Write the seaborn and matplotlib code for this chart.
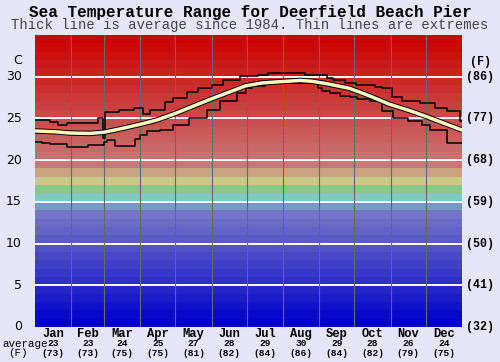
import matplotlib
matplotlib.use("Agg")
import matplotlib.pyplot as plt
import seaborn as sns
import numpy as np
from matplotlib.transforms import blended_transform_factory

# ---------------- data ----------------
months = ["Jan", "Feb", "Mar", "Apr", "May", "Jun",
          "Jul", "Aug", "Sep", "Oct", "Nov", "Dec"]
month_avg_c = [23, 23, 24, 25, 27, 28, 29, 30, 29, 28, 26, 24]
month_avg_f = [73, 73, 75, 75, 81, 82, 84, 86, 84, 82, 79, 75]
month_starts = [0, 31, 59, 90, 120, 151, 181, 212, 243, 273, 304, 334, 365]

c_ticks = [0, 5, 10, 15, 20, 25, 30]
f_labels = ["(32)", "(41)", "(50)", "(59)", "(68)", "(77)", "(86)"]

# average (thick line): day of year, deg C
avg_day = [0, 17, 30, 47, 59, 73, 90, 104, 120, 134, 150, 165, 180, 194,
           214, 227, 237, 250, 269, 286, 303, 321, 335, 350, 365]
avg_temp = [23.5, 23.4, 23.25, 23.2, 23.35, 23.75, 24.3, 24.8, 25.6, 26.4,
            27.3, 28.1, 28.9, 29.25, 29.45, 29.55, 29.45, 29.15, 28.6, 27.7,
            26.7, 25.9, 25.2, 24.4, 23.6]

# extremes (thin step lines)
max_day = [0, 13, 20, 27, 54, 58.5, 59.5, 72, 85, 92, 98, 111, 118, 130, 139,
           151, 161, 175, 191, 199, 231, 250, 255, 265, 274, 291, 297, 305,
           314, 329, 342, 352, 363, 365]
max_temp = [24.8, 24.6, 24.2, 24.5, 25.0, 22.6, 25.8, 26.0, 26.3, 25.5, 26.0,
            27.0, 27.5, 28.2, 28.7, 29.0, 29.6, 30.05, 30.2, 30.4, 30.25,
            29.85, 29.6, 29.3, 29.05, 28.8, 28.6, 27.6, 27.1, 26.85, 26.25,
            25.9, 24.65, 24.65]

min_day = [0, 6, 13, 27, 45, 59, 61.5, 68, 85.5, 90, 96, 107, 118, 132, 147,
           158, 173, 180, 185.5, 197, 211, 216, 242, 245, 252, 261, 269, 275,
           286, 297, 306, 319, 331, 338, 352, 365]
min_temp = [22.2, 22.0, 21.9, 21.6, 21.8, 22.2, 22.4, 21.7, 22.5, 23.0, 23.45,
            23.65, 24.25, 25.05, 26.05, 27.05, 28.05, 28.65, 28.9, 29.25,
            29.45, 29.2, 28.6, 28.25, 28.1, 27.7, 27.6, 27.3, 27.05, 25.85,
            25.0, 24.7, 24.25, 23.65, 22.0, 22.0]

# ---------------- figure ----------------
W, H = 500, 362
BG = "#e6e6fa"
fig = plt.figure(figsize=(W / 100, H / 100), dpi=100, facecolor=BG)
ax = fig.add_axes([35 / W, (H - 327) / H, 427 / W, 292 / H])
ax.set_xlim(0, 365)
ax.set_ylim(0, 35)
for s in ax.spines.values():
    s.set_visible(False)

# background colour bands (1 degree each)
def band_color(i):
    if i <= 13:
        t = i / 13.0
        return (0.0 + t * 0.46, 0.0 + t * 0.46, 0.80 - t * 0.02)
    special = {14: "#7898c8", 15: "#80c8c8", 16: "#88c888",
               17: "#c8c888", 18: "#c8a480"}
    if i in special:
        return special[i]
    t = (i - 19) / 15.0
    g = (120 - 120 * t) / 255.0
    return (0.785 + 0.015 * t, g, g)

for i in range(35):
    ax.axhspan(i, i + 1, color=band_color(i), lw=0, zorder=0)

# grid
for c in c_ticks[1:]:
    ax.axhline(c, color="white", lw=1.4, zorder=1)
for d in month_starts[1:-1]:
    ax.axvline(d, color="#686868", lw=0.8, zorder=1)

# lines
sns.lineplot(x=max_day, y=max_temp, ax=ax, color="black", lw=1.1,
             drawstyle="steps-post", estimator=None, sort=False, zorder=3)
sns.lineplot(x=min_day, y=min_temp, ax=ax, color="black", lw=1.1,
             drawstyle="steps-post", estimator=None, sort=False, zorder=3)
sns.lineplot(x=avg_day, y=avg_temp, ax=ax, color="black", lw=3.9,
             estimator=None, sort=False, zorder=4, solid_capstyle="butt")
sns.lineplot(x=avg_day, y=avg_temp, ax=ax, color="#fbfbbf", lw=2.5,
             estimator=None, sort=False, zorder=5, solid_capstyle="butt")

ax.set_xticks([])
ax.set_yticks([])
ax.set_xlabel("")
ax.set_ylabel("")

# ---------------- texts ----------------
def fx(px):
    return px / W

def fy(py):
    return 1 - py / H

mono = "Liberation Mono"
fig.text(fx(250), fy(12), "Sea Temperature Range for Deerfield Beach Pier",
         ha="center", va="center", family=mono, weight="bold", fontsize=11.5)
fig.text(fx(250), fy(25), "Thick line is average since 1984. Thin lines are extremes",
         ha="center", va="center", family=mono, fontsize=10, color="#444444")

# left celsius labels
tr_left = blended_transform_factory(fig.transFigure, ax.transData)
for c in c_ticks:
    ax.text(fx(22), c, str(c), transform=tr_left, ha="right", va="center",
            family="DejaVu Sans", fontsize=9)
fig.text(fx(22), fy(61), "C", ha="right", va="center",
         family="DejaVu Sans", fontsize=9)

# right fahrenheit labels
for c, lab in zip(c_ticks, f_labels):
    ax.text(fx(466), c, lab, transform=tr_left, ha="left", va="center",
            family=mono, weight="bold", fontsize=8.4)
fig.text(fx(480), fy(62), "(F)", ha="center", va="center",
         family=mono, weight="bold", fontsize=8.4)

# bottom month labels
tr_bot = blended_transform_factory(ax.transData, fig.transFigure)
for i, m in enumerate(months):
    xc = (month_starts[i] + month_starts[i + 1]) / 2
    ax.text(xc, fy(334), m, transform=tr_bot, ha="center", va="center",
            family=mono, weight="bold", fontsize=8.7)
    ax.text(xc, fy(344), str(month_avg_c[i]), transform=tr_bot, ha="center",
            va="center", family=mono, weight="bold", fontsize=6.8)
    ax.text(xc, fy(353), "(%d)" % month_avg_f[i], transform=tr_bot,
            ha="center", va="center", family=mono, weight="bold", fontsize=6.8)

fig.text(fx(2), fy(344), "average", ha="left", va="center",
         family=mono, fontsize=7.8)
fig.text(fx(18), fy(353), "(F)", ha="center", va="center",
         family=mono, fontsize=7.8)

fig.savefig("out.png", dpi=100, facecolor=BG)
